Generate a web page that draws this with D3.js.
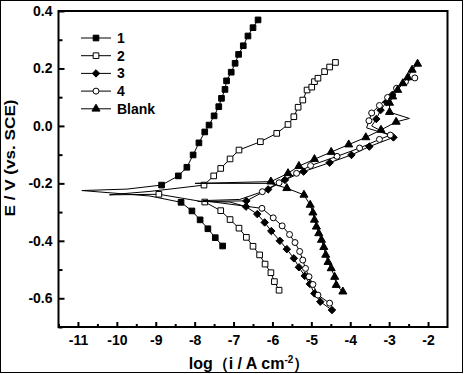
<!DOCTYPE html>
<html>
<head>
<meta charset="utf-8">
<script src="https://cdn.jsdelivr.net/npm/d3@7"></script>
<style>
  body { margin: 0; background: #fff; }
  text { font-family: "Liberation Sans", Arial, sans-serif; font-weight: bold; fill: #000; }
</style>
</head>
<body>
<svg width="464" height="374"></svg>
<script>
// log(i) , E  pairs
const c1Cathodic = [[-7.28,-0.418],[-7.47,-0.389],[-7.66,-0.358],[-7.86,-0.327],[-8.07,-0.296],[-8.35,-0.266]];
const c1Ecorr = [[-9.15,-0.244],[-10.90,-0.225],[-9.74,-0.220]];
const c1Anodic = [[-8.85,-0.206],[-8.42,-0.174],[-8.20,-0.144],[-8.04,-0.101],[-7.89,-0.059],[-7.74,-0.021],[-7.63,0.003],[-7.50,0.035],[-7.38,0.067],[-7.31,0.096],[-7.22,0.127],[-7.18,0.157],[-7.06,0.187],[-6.96,0.218],[-6.87,0.249],[-6.75,0.279],[-6.63,0.313],[-6.50,0.342],[-6.37,0.369]];

const c2Cathodic = [[-5.83,-0.572],[-5.95,-0.542],[-6.04,-0.511],[-6.19,-0.481],[-6.33,-0.449],[-6.50,-0.419],[-6.67,-0.388],[-6.86,-0.356],[-7.09,-0.326],[-7.33,-0.295],[-7.74,-0.265],[-8.92,-0.238]];
const c2Ecorr = [[-10.19,-0.240],[-9.15,-0.228]];
const c2Anodic = [[-7.76,-0.206],[-7.51,-0.174],[-7.33,-0.148],[-7.09,-0.115],[-6.86,-0.084],[-6.31,-0.055],[-5.89,-0.026],[-5.60,0.005],[-5.45,0.032],[-5.34,0.065],[-5.22,0.090],[-5.11,0.125],[-4.99,0.135],[-4.92,0.154],[-4.83,0.166],[-4.66,0.189],[-4.53,0.205],[-4.38,0.221]];

const c3Cathodic = [[-4.47,-0.641],[-4.77,-0.612],[-4.92,-0.583],[-5.04,-0.550],[-5.17,-0.522],[-5.32,-0.492],[-5.45,-0.461],[-5.63,-0.429],[-5.81,-0.400],[-6.03,-0.366],[-6.20,-0.336],[-6.39,-0.307],[-6.68,-0.281]];
const c3Ecorr = [[-7.09,-0.265],[-7.92,-0.263]];
const c3Anodic = [[-6.67,-0.261],[-6.11,-0.221],[-5.68,-0.188],[-5.20,-0.159],[-4.53,-0.128],[-3.97,-0.101],[-3.51,-0.072],[-2.89,-0.040]];
const c3Turn = [[-3.45,0.000]];
const c3Upper = [[-3.33,0.024],[-3.22,0.055],[-3.07,0.083],[-2.92,0.108]];

const c4Cathodic = [[-4.53,-0.617],[-4.83,-0.589],[-4.96,-0.552],[-5.06,-0.525],[-5.15,-0.496],[-5.22,-0.467],[-5.30,-0.437],[-5.42,-0.406],[-5.56,-0.378],[-5.75,-0.348],[-5.98,-0.320],[-6.27,-0.287]];
const c4Ecorr = [[-7.79,-0.260],[-6.84,-0.256]];
const c4Anodic = [[-6.26,-0.229],[-5.83,-0.198],[-5.38,-0.165],[-5.02,-0.138],[-4.34,-0.106],[-3.76,-0.077],[-3.25,-0.047],[-2.97,-0.032]];
const c4Turn = [[-3.58,-0.007]];
const c4Upper = [[-3.52,0.018],[-3.45,0.045],[-3.25,0.071],[-3.04,0.099],[-2.81,0.131],[-2.58,0.154],[-2.34,0.167]];

const blankCathodic = [[-4.19,-0.577],[-4.36,-0.554],[-4.40,-0.526],[-4.49,-0.496],[-4.57,-0.474],[-4.63,-0.449],[-4.68,-0.422],[-4.74,-0.397],[-4.81,-0.374],[-4.87,-0.351],[-4.92,-0.327],[-4.96,-0.302],[-5.03,-0.275],[-5.19,-0.240],[-5.63,-0.217]];
const blankEcorr = [[-6.04,-0.200],[-7.99,-0.200]];
const blankAnodic = [[-6.04,-0.194],[-5.60,-0.165],[-5.32,-0.140],[-4.92,-0.116],[-4.49,-0.091],[-4.04,-0.065],[-3.60,-0.040],[-3.21,-0.014],[-2.82,0.014]];
const blankTurn = [[-2.48,0.026]];
const blankUpper = [[-2.99,0.048],[-2.99,0.080],[-2.91,0.102],[-2.78,0.125],[-2.65,0.148],[-2.52,0.169],[-2.41,0.195],[-2.27,0.216]];

const xTicks = [-11, -10, -9, -8, -7, -6, -5, -4, -3, -2];
const yTicks = [-0.6, -0.4, -0.2, 0.0, 0.2, 0.4];

const series = [
    {label: "1", symbol: "square", fill: "#000", marked: [c1Cathodic, c1Anodic], path: [c1Cathodic, c1Ecorr, c1Anodic]},
    {label: "2", symbol: "square", fill: "#fff", marked: [c2Cathodic, c2Anodic], path: [c2Cathodic, c2Ecorr, c2Anodic]},
    {label: "3", symbol: "diamond", fill: "#000", marked: [c3Cathodic, c3Anodic, c3Upper], path: [c3Cathodic, c3Ecorr, c3Anodic, c3Turn, c3Upper]},
    {label: "4", symbol: "circle", fill: "#fff", marked: [c4Cathodic, c4Anodic, c4Upper], path: [c4Cathodic, c4Ecorr, c4Anodic, c4Turn, c4Upper]},
    {label: "Blank", symbol: "triangle", fill: "#000", marked: [blankCathodic, blankAnodic, blankUpper], path: [blankCathodic, blankEcorr, blankAnodic, blankTurn, blankUpper]}
];

const svg = d3.select("svg");

svg.append("rect")
    .attr("x", 0.5).attr("y", 0.5)
    .attr("width", 462).attr("height", 372)
    .attr("fill", "#fff").attr("stroke", "#000").attr("stroke-width", 1);

const x = d3.scaleLinear().domain([-11.5, -1.5]).range([58.5, 447.5]);
const y = d3.scaleLinear().domain([-0.7, 0.4]).range([327, 11]);

const diamond = {
    draw(ctx, size) {
        const r = Math.sqrt(size / 2);
        ctx.moveTo(0, -r); ctx.lineTo(r, 0); ctx.lineTo(0, r); ctx.lineTo(-r, 0); ctx.closePath();
    }
};
const symbols = {
    square: d3.symbol(d3.symbolSquare, 32),
    diamond: d3.symbol(diamond, 28),
    circle: d3.symbol(d3.symbolCircle, 28),
    triangle: d3.symbol(d3.symbolTriangle, 28)
};

// axes (ticks point inward)
const xMinor = d3.range(-11.5, -1.5, 1);
const yMinor = d3.range(-0.7, 0.41, 0.2).map(v => +v.toFixed(1));

svg.append("g")
    .attr("transform", `translate(0,${y(-0.7)})`)
    .call(d3.axisBottom(x).tickValues(xMinor).tickSizeInner(-3).tickSizeOuter(0).tickFormat(""))
    .call(g => g.select(".domain").remove())
    .call(g => g.selectAll("line").attr("stroke-width", 2));

svg.append("g")
    .attr("transform", `translate(0,${y(-0.7)})`)
    .call(d3.axisBottom(x).tickValues(xTicks).tickSizeInner(-5).tickSizeOuter(0).tickPadding(8).tickFormat(d => String(d)))
    .call(g => g.select(".domain").remove())
    .call(g => g.selectAll("line").attr("stroke-width", 2))
    .call(g => g.selectAll("text").attr("font-size", 14).attr("font-family", null));

svg.append("g")
    .attr("transform", `translate(${x(-11.5)},0)`)
    .call(d3.axisLeft(y).tickValues(yMinor).tickSizeInner(-4).tickSizeOuter(0).tickFormat(""))
    .call(g => g.select(".domain").remove())
    .call(g => g.selectAll("line").attr("stroke-width", 2));

svg.append("g")
    .attr("transform", `translate(${x(-11.5)},0)`)
    .call(d3.axisLeft(y).tickValues(yTicks).tickSizeInner(-6).tickSizeOuter(0).tickPadding(6).tickFormat(d => d.toFixed(1)))
    .call(g => g.select(".domain").remove())
    .call(g => g.selectAll("line").attr("stroke-width", 2))
    .call(g => g.selectAll("text").attr("font-size", 14).attr("font-family", null));

svg.append("rect")
    .attr("x", x(-11.5)).attr("y", y(0.4))
    .attr("width", x(-1.5) - x(-11.5)).attr("height", y(-0.7) - y(0.4))
    .attr("fill", "none").attr("stroke", "#000").attr("stroke-width", 2);

// curves
const line = d3.line().x(d => x(d[0])).y(d => y(d[1]));
const plot = svg.append("g");

for (const s of series) {
    plot.append("path")
        .attr("d", line(s.path.flat()))
        .attr("fill", "none").attr("stroke", "#000").attr("stroke-width", 1);
    plot.append("g").selectAll("path")
        .data(s.marked.flat())
        .join("path")
        .attr("transform", d => `translate(${x(d[0])},${y(d[1])})`)
        .attr("d", symbols[s.symbol])
        .attr("fill", s.fill).attr("stroke", "#000").attr("stroke-width", 1);
}

// legend
const legend = svg.append("g").attr("transform", "translate(81,38)");
const row = legend.selectAll("g").data(series).join("g")
    .attr("transform", (d, i) => `translate(0,${i * 17.7})`);
row.append("line").attr("x1", 0).attr("x2", 30).attr("stroke", "#000").attr("stroke-width", 1);
row.append("path")
    .attr("transform", "translate(15,0)")
    .attr("d", d => symbols[d.symbol]())
    .attr("fill", d => d.fill).attr("stroke", "#000");
row.append("text").attr("x", 36).attr("dy", "0.36em").attr("font-size", 14).text(d => d.label);

// axis titles
svg.append("text")
    .attr("transform", "translate(15,158) rotate(-90)")
    .attr("text-anchor", "middle")
    .attr("font-size", 14)
    .attr("textLength", 117).attr("lengthAdjust", "spacingAndGlyphs")
    .text("E / V (vs. SCE)");

const xt = svg.append("text")
    .attr("x", 249).attr("y", 369)
    .attr("text-anchor", "middle")
    .attr("font-size", 16);
xt.append("tspan").text("log（i / A cm");
xt.append("tspan").attr("dy", -6).attr("font-size", 10).text("-2");
xt.append("tspan").attr("dy", 6).text("）");
</script>
</body>
</html>
